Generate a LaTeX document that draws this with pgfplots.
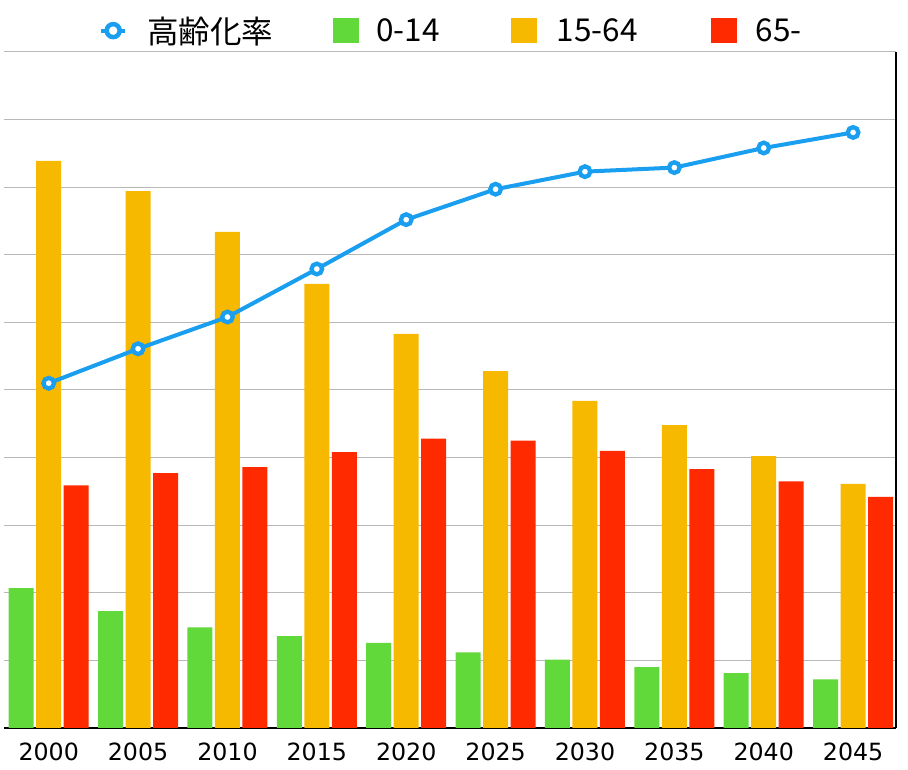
\documentclass[border=0pt]{standalone}
\usepackage{pgfplots}
\pgfplotsset{compat=1.18}
\usepackage{pgfplotstable}
\usepackage{fontspec}
\setmainfont{DejaVu Sans}
\newfontfamily\cjk{Noto Sans CJK JP}
\definecolor{cgreen}{HTML}{62D93A}
\definecolor{corange}{HTML}{F7B900}
\definecolor{cred}{HTML}{FF2A00}
\definecolor{cblue}{HTML}{1A9EF0}
\definecolor{cgrid}{HTML}{B8B8B8}
\pgfplotstableread{
x  g     o     r     rate
0  2.07  8.39  3.59  5.10
1  1.73  7.94  3.77  5.61
2  1.49  7.34  3.86  6.08
3  1.36  6.57  4.08  6.79
4  1.26  5.83  4.28  7.52
5  1.12  5.28  4.25  7.97
6  1.01  4.84  4.10  8.23
7  0.90  4.48  3.83  8.29
8  0.81  4.02  3.65  8.58
9  0.72  3.61  3.42  8.81
}\data
\begin{document}
\begin{tikzpicture}[x=1pt,y=1pt]
\useasboundingbox (0,0) rectangle (908,770);
\begin{axis}[
  at={(4pt,42pt)}, anchor=south west,
  width=892pt, height=676pt, scale only axis,
  xmin=-0.5, xmax=9.48, ymin=0, ymax=10,
  axis x line=bottom, axis y line=right,
  axis line style={-, black, line width=1.3pt},
  xtick={0,...,9},
  xticklabels={2000,2005,2010,2015,2020,2025,2030,2035,2040,2045},
  ytick={0,...,10}, yticklabels={},
  ymajorgrids, grid style={draw=cgrid, line width=1pt},
  major tick length=0pt,
  xticklabel style={font=\fontsize{23.7}{28}\selectfont, inner sep=0pt, anchor=north, yshift=-14.5pt},
  ybar=2.5pt, bar width=25pt,
  legend columns=4,
  legend style={at={(axis description cs:0.1067,1.0316)}, anchor=west,
    draw=none, fill=none, inner sep=0pt, outer sep=0pt,
    font=\cjk\fontsize{31.5}{37}\selectfont,
    nodes={inner sep=0pt},
    /tikz/column 1/.style={column sep=18pt},
    /tikz/column 2/.style={column sep=60pt},
    /tikz/column 3/.style={column sep=17pt},
    /tikz/column 4/.style={column sep=71pt},
    /tikz/column 5/.style={column sep=20pt},
    /tikz/column 6/.style={column sep=73pt},
    /tikz/column 7/.style={column sep=19pt}},
]
\addlegendimage{legend image code/.code={
    \draw[cblue, line width=4pt] (0pt,0pt) -- (24pt,0pt);
    \draw[cblue, line width=4.5pt, fill=white] (12pt,0pt) circle (6.5pt);
    \path (28pt,0pt);}}
\addlegendentry{高齢化率}
\addplot[fill=cgreen, draw=none, bar shift=-27.5pt,
  legend image code/.code={\fill[cgreen] (0pt,-12.5pt) rectangle (26pt,12.5pt);}]
  table[x=x, y=g] {\data};
\addlegendentry{0-14}
\addplot[fill=corange, draw=none, bar shift=0pt,
  legend image code/.code={\fill[corange] (0pt,-12.5pt) rectangle (26pt,12.5pt);}]
  table[x=x, y=o] {\data};
\addlegendentry{15-64}
\addplot[fill=cred, draw=none, bar shift=27.5pt,
  legend image code/.code={\fill[cred] (0pt,-12.5pt) rectangle (26pt,12.5pt);}]
  table[x=x, y=r] {\data};
\addlegendentry{65-}
\addplot[sharp plot, forget plot, cblue, line width=4pt, mark=*, mark size=5.3pt,
  mark options={fill=white, draw=cblue, line width=4.3pt}]
  table[x=x, y=rate] {\data};
\end{axis}
\end{tikzpicture}
\end{document}
